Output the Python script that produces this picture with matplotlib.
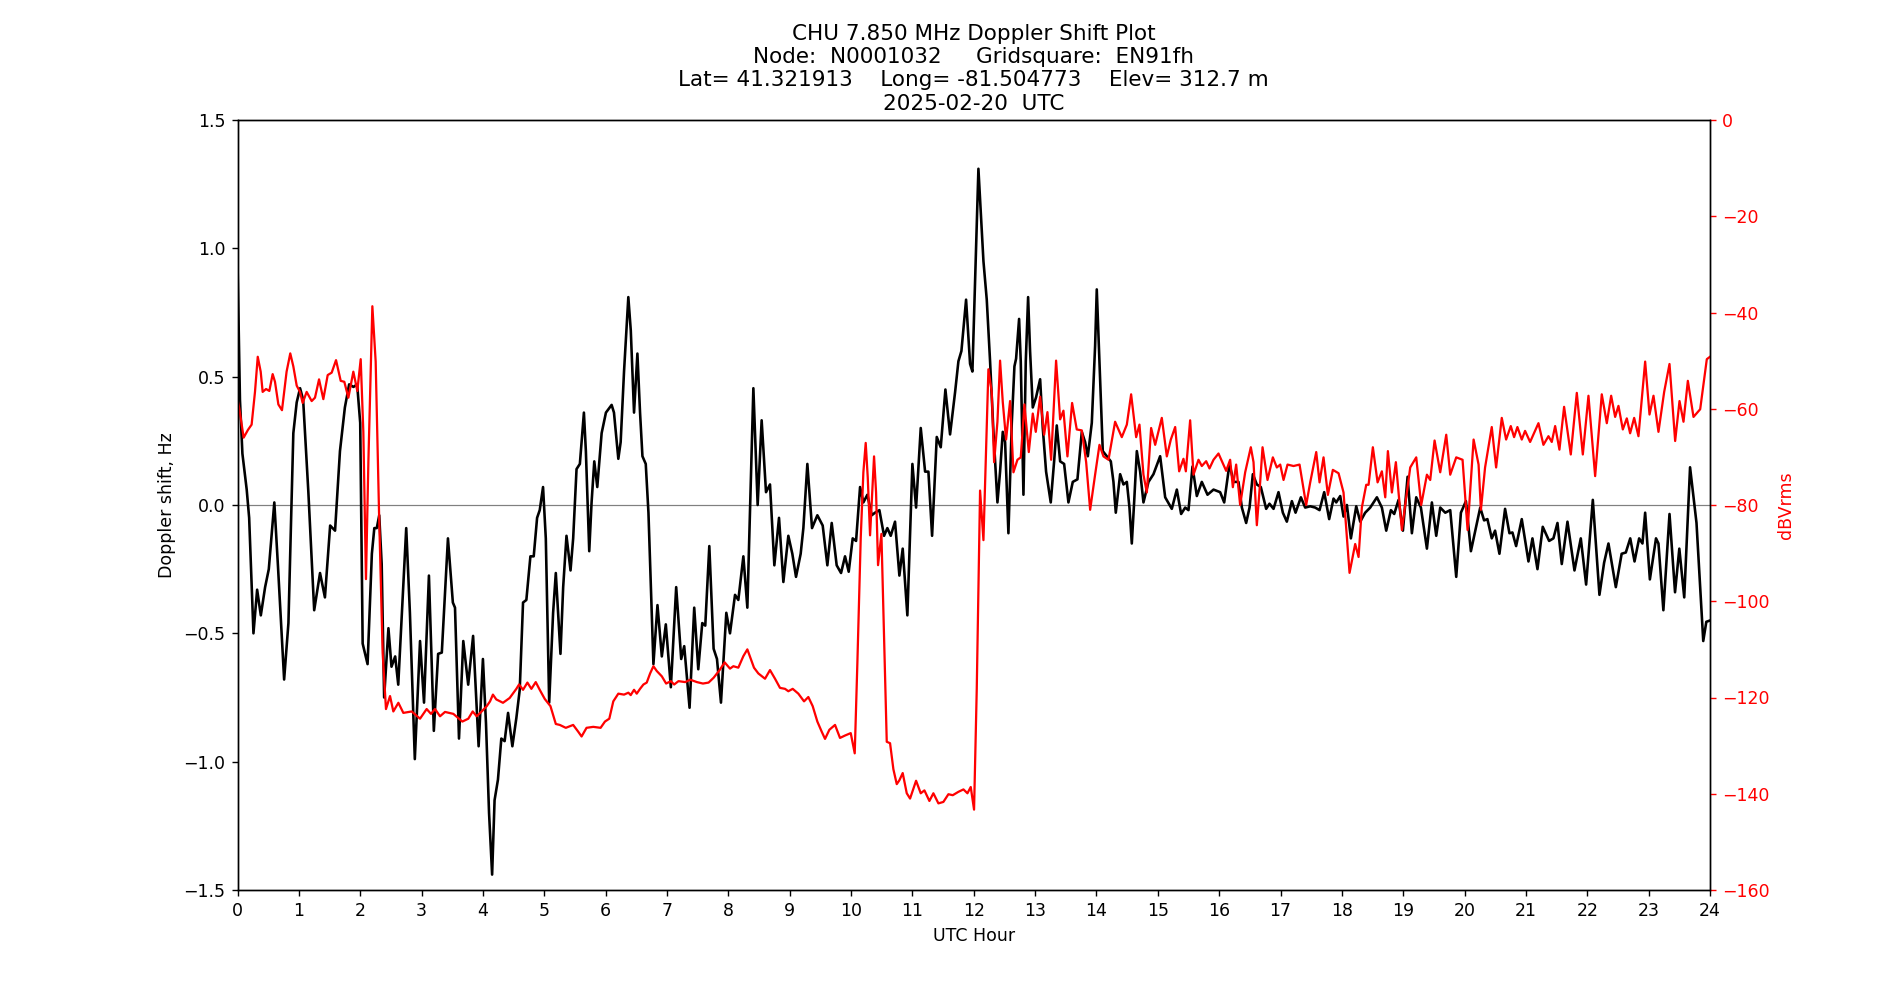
import matplotlib
matplotlib.use("Agg")
import matplotlib.pyplot as plt

title_text = ("CHU 7.850 MHz Doppler Shift Plot\n"
              "Node:  N0001032     Gridsquare:  EN91fh\n"
              "Lat= 41.321913    Long= -81.504773    Elev= 312.7 m\n"
              "2025-02-20  UTC")

doppler_hours = [
    0.00, 0.04, 0.08, 0.15, 0.19, 0.26, 0.32, 0.38, 0.45, 0.51, 0.60, 0.66, 0.76, 0.83, 0.91,
    0.965, 1.02, 1.07, 1.155, 1.25, 1.345, 1.425, 1.51, 1.59, 1.67, 1.75, 1.82, 1.89, 1.95, 2.00,
    2.04, 2.12, 2.19, 2.23, 2.27, 2.31, 2.35, 2.39, 2.46, 2.51, 2.57, 2.62, 2.68, 2.75, 2.81,
    2.89, 2.975, 3.04, 3.12, 3.20, 3.27, 3.33, 3.43, 3.51, 3.545, 3.61, 3.68, 3.76, 3.84, 3.93,
    4.00, 4.05, 4.10, 4.15, 4.19, 4.245, 4.30, 4.354, 4.41, 4.48, 4.545, 4.60, 4.654, 4.708,
    4.774, 4.828, 4.883, 4.926, 4.98, 5.025, 5.08, 5.144, 5.188, 5.264, 5.308, 5.362, 5.428,
    5.471, 5.526, 5.58, 5.646, 5.678, 5.733, 5.771, 5.815, 5.864, 5.935, 6.005, 6.098, 6.136,
    6.207, 6.245, 6.30, 6.37, 6.41, 6.463, 6.518, 6.561, 6.60, 6.654, 6.698, 6.741, 6.779,
    6.845, 6.916, 6.981, 7.063, 7.15, 7.232, 7.281, 7.368, 7.444, 7.51, 7.575, 7.624, 7.69,
    7.76, 7.815, 7.88, 7.967, 8.027, 8.109, 8.163, 8.245, 8.31, 8.353, 8.408, 8.478, 8.543,
    8.614, 8.679, 8.75, 8.826, 8.897, 8.978, 9.043, 9.103, 9.179, 9.223, 9.288, 9.364, 9.451,
    9.538, 9.614, 9.685, 9.766, 9.837, 9.902, 9.962, 10.027, 10.082, 10.147, 10.201, 10.266,
    10.337, 10.391, 10.462, 10.538, 10.592, 10.647, 10.717, 10.788, 10.842, 10.918, 11.0,
    11.06, 11.136, 11.207, 11.261, 11.321, 11.397, 11.462, 11.538, 11.614, 11.696, 11.75,
    11.799, 11.875, 11.94, 11.978, 12.076, 12.158, 12.212, 12.266, 12.321, 12.386, 12.429,
    12.473, 12.511, 12.565, 12.62, 12.663, 12.69, 12.739, 12.766, 12.81, 12.848, 12.886,
    12.918, 12.962, 13.016, 13.082, 13.125, 13.179, 13.255, 13.31, 13.353, 13.408, 13.473,
    13.543, 13.614, 13.69, 13.761, 13.815, 13.859, 13.924, 13.978, 14.005, 14.043, 14.103,
    14.168, 14.234, 14.277, 14.315, 14.386, 14.44, 14.495, 14.538, 14.576, 14.614, 14.658,
    14.712, 14.766, 14.848, 14.929, 15.038, 15.12, 15.228, 15.31, 15.38, 15.446, 15.50,
    15.565, 15.636, 15.717, 15.81, 15.908, 16.016, 16.082, 16.168, 16.234, 16.315, 16.37,
    16.44, 16.495, 16.549, 16.614, 16.679, 16.766, 16.82, 16.886, 16.967, 17.038, 17.103,
    17.185, 17.245, 17.332, 17.402, 17.484, 17.565, 17.636, 17.712, 17.793, 17.864, 17.908,
    17.973, 18.027, 18.082, 18.147, 18.234, 18.299, 18.38, 18.462, 18.571, 18.652, 18.723,
    18.799, 18.853, 18.924, 18.995, 19.071, 19.141, 19.212, 19.288, 19.386, 19.467, 19.538,
    19.603, 19.685, 19.766, 19.864, 19.94, 20.022, 20.103, 20.174, 20.255, 20.318, 20.372,
    20.443, 20.497, 20.568, 20.66, 20.731, 20.78, 20.84, 20.932, 21.041, 21.106, 21.188,
    21.274, 21.378, 21.448, 21.514, 21.584, 21.677, 21.791, 21.894, 21.981, 22.09, 22.198,
    22.274, 22.345, 22.465, 22.56, 22.628, 22.70, 22.77, 22.845, 22.899, 22.943, 23.02,
    23.12, 23.16, 23.24, 23.34, 23.43, 23.50, 23.58, 23.675, 23.78, 23.89, 23.94, 24.0,
]
doppler_hz = [
    0.95, 0.41, 0.20, 0.06, -0.05, -0.50, -0.33, -0.43, -0.32, -0.25, 0.01, -0.24, -0.68, -0.46, 0.28,
    0.40, 0.455, 0.41, 0.05, -0.41, -0.265, -0.36, -0.08, -0.10, 0.21, 0.38, 0.47, 0.46, 0.47, 0.32,
    -0.54, -0.62, -0.19, -0.09, -0.09, -0.04, -0.23, -0.75, -0.48, -0.63, -0.59, -0.70, -0.42, -0.09, -0.42,
    -0.99, -0.53, -0.77, -0.275, -0.88, -0.58, -0.575, -0.13, -0.38, -0.40, -0.91, -0.53, -0.70, -0.51, -0.94,
    -0.60, -0.85, -1.20, -1.44, -1.15, -1.07, -0.91, -0.92, -0.81, -0.94, -0.83, -0.72, -0.38, -0.37,
    -0.20, -0.20, -0.05, -0.02, 0.07, -0.13, -0.77, -0.42, -0.265, -0.58, -0.32, -0.12, -0.255,
    -0.13, 0.14, 0.16, 0.36, 0.21, -0.18, 0.01, 0.17, 0.07, 0.28, 0.36, 0.39, 0.36,
    0.18, 0.245, 0.52, 0.81, 0.68, 0.36, 0.59, 0.36, 0.19, 0.16, -0.03, -0.34, -0.62,
    -0.39, -0.59, -0.465, -0.71, -0.32, -0.60, -0.55, -0.79, -0.40, -0.64, -0.46, -0.47, -0.16,
    -0.56, -0.60, -0.77, -0.42, -0.50, -0.35, -0.37, -0.20, -0.40, -0.03, 0.455, 0.0, 0.33,
    0.05, 0.08, -0.235, -0.05, -0.30, -0.12, -0.19, -0.28, -0.19, -0.09, 0.16, -0.09, -0.04,
    -0.08, -0.235, -0.07, -0.235, -0.265, -0.20, -0.26, -0.13, -0.14, 0.07, 0.01, 0.04,
    -0.04, -0.03, -0.02, -0.12, -0.09, -0.12, -0.065, -0.275, -0.17, -0.43, 0.16,
    -0.01, 0.30, 0.13, 0.13, -0.12, 0.265, 0.225, 0.45, 0.275, 0.44, 0.56,
    0.60, 0.80, 0.55, 0.52, 1.31, 0.95, 0.80, 0.56, 0.285, 0.01, 0.13,
    0.285, 0.245, -0.11, 0.32, 0.54, 0.57, 0.725, 0.56, 0.04, 0.56, 0.81,
    0.60, 0.38, 0.42, 0.49, 0.30, 0.13, 0.01, 0.17, 0.31, 0.17, 0.16,
    0.01, 0.09, 0.10, 0.285, 0.245, 0.19, 0.32, 0.62, 0.84, 0.60, 0.21,
    0.19, 0.17, 0.09, -0.03, 0.12, 0.08, 0.09, -0.01, -0.15, 0.01, 0.21,
    0.13, 0.01, 0.09, 0.12, 0.19, 0.03, -0.015, 0.06, -0.035, -0.01, -0.02,
    0.15, 0.035, 0.09, 0.04, 0.06, 0.05, 0.01, 0.16, 0.09, 0.09, -0.01,
    -0.07, -0.01, 0.12, 0.08, 0.07, -0.015, 0.005, -0.015, 0.05, -0.03, -0.065,
    0.015, -0.03, 0.03, -0.01, -0.005, -0.01, -0.02, 0.05, -0.055, 0.025, 0.01,
    0.035, -0.045, 0.0, -0.13, -0.005, -0.065, -0.03, -0.01, 0.03, -0.01, -0.10,
    -0.02, -0.035, 0.02, -0.10, 0.11, -0.11, 0.03, -0.01, -0.17, 0.01, -0.12,
    -0.01, -0.03, -0.02, -0.28, -0.03, 0.015, -0.18, -0.10, -0.01, -0.06, -0.055,
    -0.13, -0.10, -0.19, -0.015, -0.11, -0.107, -0.16, -0.055, -0.22, -0.13, -0.25,
    -0.085, -0.14, -0.13, -0.07, -0.23, -0.065, -0.255, -0.13, -0.31, 0.02, -0.35,
    -0.225, -0.15, -0.32, -0.19, -0.185, -0.13, -0.22, -0.13, -0.15, -0.03, -0.29,
    -0.13, -0.15, -0.41, -0.035, -0.34, -0.17, -0.36, 0.147, -0.07, -0.53, -0.455, -0.45,
]

power_hours = [
    0.0, 0.03, 0.10, 0.17, 0.23, 0.285, 0.33, 0.378, 0.41, 0.465, 0.519, 0.573, 0.611, 0.666,
    0.725, 0.80, 0.86, 0.91, 0.965, 1.019, 1.062, 1.127, 1.209, 1.263, 1.329, 1.399, 1.47,
    1.535, 1.606, 1.682, 1.741, 1.807, 1.888, 1.953, 2.008, 2.051, 2.094, 2.133, 2.198, 2.252,
    2.307, 2.366, 2.42, 2.486, 2.54, 2.622, 2.703, 2.839, 2.975, 3.083, 3.154, 3.219, 3.301,
    3.382, 3.518, 3.665, 3.762, 3.833, 3.899, 3.98, 4.062, 4.116, 4.163, 4.218, 4.327, 4.436,
    4.545, 4.589, 4.654, 4.725, 4.79, 4.861, 4.926, 5.008, 5.101, 5.188, 5.253, 5.351, 5.471,
    5.553, 5.608, 5.689, 5.798, 5.918, 5.989, 6.06, 6.125, 6.207, 6.30, 6.371, 6.409, 6.463,
    6.507, 6.561, 6.616, 6.67, 6.725, 6.779, 6.834, 6.916, 6.986, 7.063, 7.117, 7.188, 7.297,
    7.379, 7.488, 7.586, 7.678, 7.76, 7.858, 7.94, 8.027, 8.082, 8.163, 8.245, 8.31, 8.364,
    8.418, 8.489, 8.598, 8.679, 8.761, 8.842, 8.924, 8.978, 9.049, 9.141, 9.234, 9.304, 9.375,
    9.451, 9.522, 9.576, 9.647, 9.739, 9.82, 9.902, 9.995, 10.06, 10.103, 10.158, 10.201,
    10.239, 10.272, 10.31, 10.375, 10.408, 10.44, 10.495, 10.538, 10.582, 10.636, 10.69,
    10.745, 10.788, 10.842, 10.908, 10.962, 11.06, 11.136, 11.196, 11.277, 11.342, 11.424,
    11.505, 11.587, 11.658, 11.75, 11.832, 11.897, 11.951, 12.005, 12.049, 12.103, 12.158,
    12.239, 12.293, 12.332, 12.386, 12.429, 12.473, 12.527, 12.592, 12.647, 12.712, 12.766,
    12.826, 12.897, 12.962, 13.011, 13.082, 13.147, 13.201, 13.261, 13.342, 13.408, 13.462,
    13.527, 13.603, 13.679, 13.761, 13.832, 13.897, 13.978, 14.049, 14.114, 14.196, 14.304,
    14.413, 14.495, 14.565, 14.647, 14.701, 14.766, 14.821, 14.891, 14.957, 15.065, 15.147,
    15.212, 15.283, 15.348, 15.418, 15.457, 15.527, 15.582, 15.663, 15.717, 15.788, 15.842,
    15.908, 15.989, 16.114, 16.179, 16.223, 16.277, 16.342, 16.424, 16.516, 16.56, 16.614,
    16.668, 16.707, 16.788, 16.875, 16.94, 16.995, 17.049, 17.114, 17.212, 17.31, 17.418,
    17.484, 17.582, 17.636, 17.701, 17.772, 17.853, 17.946, 18.027, 18.125, 18.217, 18.272,
    18.326, 18.397, 18.435, 18.505, 18.582, 18.652, 18.707, 18.75, 18.815, 18.88, 18.978,
    19.114, 19.212, 19.293, 19.386, 19.44, 19.511, 19.603, 19.701, 19.766, 19.864, 19.967,
    20.049, 20.147, 20.228, 20.266, 20.334, 20.443, 20.514, 20.606, 20.677, 20.753, 20.807,
    20.861, 20.932, 20.986, 21.068, 21.204, 21.285, 21.367, 21.421, 21.476, 21.546, 21.622,
    21.731, 21.829, 21.927, 22.019, 22.128, 22.236, 22.318, 22.389, 22.454, 22.508, 22.579,
    22.644, 22.698, 22.764, 22.834, 22.943, 23.014, 23.079, 23.16, 23.253, 23.34, 23.432,
    23.503, 23.568, 23.639, 23.731, 23.84, 23.948, 24.0,
]
power_dbv = [
    -58.0, -60.0, -66.0, -64.4, -63.3, -56.5, -49.2, -52.3, -56.5, -55.9, -56.3, -52.8, -54.4, -59.1,
    -60.3, -52.3, -48.5, -51.2, -55.2, -56.5, -58.8, -56.5, -58.4, -57.7, -53.9, -58.0, -53.0,
    -52.5, -49.9, -54.2, -54.4, -57.7, -52.3, -56.3, -49.7, -64.8, -95.4, -71.1, -38.7, -50.2,
    -81.6, -110.8, -122.4, -119.7, -122.9, -121.1, -123.2, -122.9, -124.4, -122.4, -123.4, -122.4, -123.9,
    -123.0, -123.4, -125.0, -124.4, -122.9, -123.9, -122.9, -121.8, -120.8, -119.4, -120.4, -121.1, -120.1,
    -118.2, -117.3, -118.4, -116.9, -118.2, -116.8, -118.4, -120.3, -121.8, -125.5, -125.7, -126.3, -125.7,
    -127.1, -128.1, -126.3, -126.1, -126.3, -125.0, -124.4, -120.8, -119.2, -119.4, -119.0, -119.5, -118.4,
    -119.2, -118.2, -117.3, -116.9, -115.0, -113.5, -114.5, -115.6, -117.1, -116.6, -117.3, -116.6, -116.8,
    -116.3, -116.8, -117.1, -116.9, -115.9, -114.3, -112.7, -114.0, -113.5, -113.8, -111.4, -110.0, -111.9,
    -113.8, -115.0, -116.1, -114.3, -116.1, -118.0, -118.2, -118.7, -118.2, -119.2, -120.8, -119.9, -121.8,
    -125.0, -127.1, -128.6, -126.7, -125.7, -128.4, -127.9, -127.4, -131.6, -112.9, -86.8, -73.2,
    -67.1, -74.2, -86.3, -69.9, -77.4, -92.5, -86.0, -107.7, -129.2, -129.5, -134.9,
    -138.0, -137.2, -135.7, -139.9, -141.0, -137.3, -139.9, -139.3, -141.5, -139.9, -142.0,
    -141.7, -140.1, -140.3, -139.6, -139.1, -139.9, -138.6, -143.3, -118.2, -77.0, -87.3,
    -51.8, -56.5, -71.1, -62.7, -50.0, -58.6, -66.4, -58.4, -73.2, -70.6, -70.1,
    -59.1, -69.0, -61.0, -64.8, -57.5, -65.4, -60.7, -70.6, -50.0, -62.2, -60.4,
    -69.9, -58.8, -64.3, -64.5, -71.1, -81.0, -73.7, -67.5, -69.9, -70.6, -62.7,
    -65.9, -63.3, -57.0, -65.9, -63.3, -73.7, -77.4, -64.0, -67.5, -61.9, -69.9,
    -66.4, -63.8, -73.0, -70.4, -73.0, -62.4, -73.7, -70.6, -71.9, -70.9, -72.4,
    -70.6, -69.3, -72.9, -70.6, -76.3, -71.6, -80.0, -73.2, -68.0, -71.1, -84.2,
    -75.3, -68.0, -74.8, -70.1, -72.2, -71.6, -74.8, -71.6, -71.9, -71.6, -80.0,
    -75.3, -69.0, -75.3, -70.1, -77.9, -72.7, -73.4, -77.4, -94.1, -88.1, -90.8,
    -80.5, -75.8, -75.8, -68.0, -75.3, -73.0, -78.4, -68.8, -77.4, -71.1, -85.2,
    -72.2, -70.1, -80.0, -73.7, -74.8, -66.6, -73.2, -65.4, -73.7, -70.1, -70.6,
    -85.2, -66.4, -71.6, -81.0, -72.2, -63.8, -72.2, -61.9, -66.4, -63.6, -65.9,
    -63.8, -66.4, -64.6, -66.9, -63.0, -67.5, -65.7, -66.9, -63.6, -68.5, -59.6,
    -69.5, -56.7, -69.5, -57.3, -74.0, -57.0, -63.0, -57.3, -61.7, -59.4, -64.3,
    -62.0, -65.1, -61.9, -65.7, -50.2, -61.2, -57.3, -64.8, -56.5, -50.7, -66.7,
    -58.4, -62.7, -54.2, -61.7, -60.1, -49.7, -49.2,
]

hour_ticks = list(range(0, 25))
doppler_ticks = [-1.5, -1.0, -0.5, 0.0, 0.5, 1.0, 1.5]
power_ticks = [-160, -140, -120, -100, -80, -60, -40, -20, 0]

fig, ax = plt.subplots(figsize=(15.2, 8), dpi=125)
ax.axhline(0.0, color="gray", linewidth=0.7)
ax.plot(doppler_hours, doppler_hz, color="black", linewidth=1.5)
ax.set_xlim(0, 24)
ax.set_ylim(-1.5, 1.5)
ax.set_xticks(hour_ticks)
ax.set_yticks(doppler_ticks)
ax.set_xlabel("UTC Hour")
ax.set_ylabel("Doppler shift, Hz")
ax.set_title(title_text, fontsize=12.4)

ax2 = ax.twinx()
ax2.plot(power_hours, power_dbv, color="red", linewidth=1.3)
ax2.set_ylim(-160, 0)
ax2.set_yticks(power_ticks)
ax2.set_ylabel("dBVrms", color="red")
ax2.tick_params(axis="y", colors="red")

fig.savefig("out.png", dpi=125)
